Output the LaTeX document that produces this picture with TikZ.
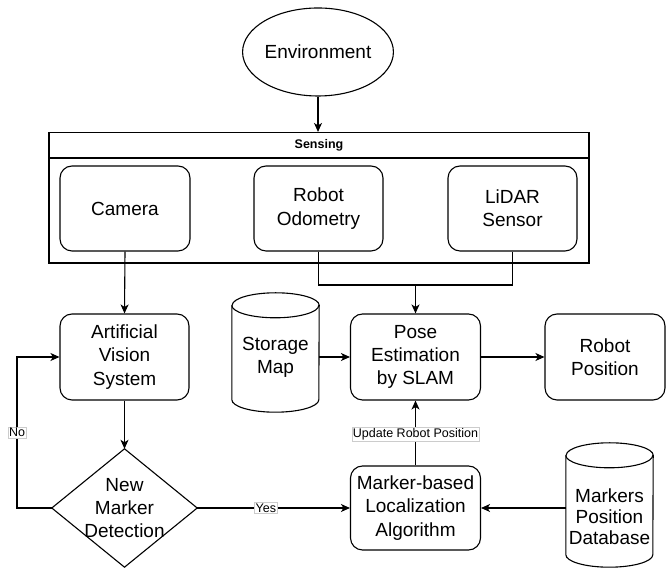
\documentclass[tikz,border=0pt]{standalone}
\usepackage{fontspec}
\setmainfont{Liberation Sans}
\usetikzlibrary{arrows.meta,calc,shapes.geometric}

\tikzset{
  every picture/.style={x=1pt,y=1pt},
  base/.style={line width=1.1pt,draw=black},
  arr/.style={base,-{Stealth[length=9pt,width=8pt,inset=2.5pt]}},
  bigtxt/.style={font=\fontsize{19}{23.3}\selectfont,align=center},
  rbox/.style={base,bigtxt,rounded corners=12pt,minimum height=85pt,inner sep=0pt},
  ghost/.style={bigtxt,inner sep=0pt},
  lbl/.style={font=\fontsize{12.5}{14}\selectfont,fill=white,draw=black!20,line width=0.5pt,inner sep=1.2pt},
}

% cylinder outline drawn round an invisible node
\newcommand{\cylout}[3]{% node, half width, ellipse radius
  \draw[base] ([yshift=-#3]#1.north west) -- ([yshift=#3]#1.south west)
    arc[start angle=180,end angle=360,x radius=#2,y radius=#3]
    -- ([yshift=-#3]#1.north east)
    arc[start angle=0,end angle=180,x radius=#2,y radius=#3];
  \draw[base] ([yshift=-#3]#1.north west)
    arc[start angle=180,end angle=360,x radius=#2,y radius=#3];
}

\begin{document}
\begin{tikzpicture}
\useasboundingbox (0,0) rectangle (666,569);

% source
\node[base,bigtxt,ellipse,minimum width=128pt,minimum height=88pt,inner sep=0pt]
  (env) at (318,517) {Environment};

% sensing group
\node[base,minimum width=540pt,minimum height=130.5pt,inner sep=0pt]
  (sens) at (319,371.25) {};
\coordinate (hdl) at (49,411);
\coordinate (hdr) at (589,411);
\draw[base] (hdl) -- (hdr);
\node[font=\fontsize{12.5}{14}\selectfont\bfseries] (senstitle) at (319,424) {Sensing};

\node[rbox,minimum width=130pt] (cam) at (125,360.5) {Camera};
\node[rbox,minimum width=129pt] (odo) at (318.5,360.5) {Robot\\Odometry};
\node[rbox,minimum width=129pt] (lid) at (512.5,360.5) {LiDAR\\Sensor};

% processing
\node[rbox,minimum width=129pt,minimum height=86pt] (avs) at (124.5,212) {Artificial\\Vision\\System};
\node[rbox,minimum width=130pt,minimum height=86pt] (pose) at (415.5,212) {Pose\\Estimation\\by SLAM};
\node[rbox,minimum width=120pt,minimum height=86pt] (rpos) at (605,212) {Robot\\Position};
\node[rbox,minimum width=130pt,minimum height=84pt] (mkr) at (415.5,61) {Marker-based\\Localization\\Algorithm};

% storage cylinders
\node[minimum width=87pt,minimum height=119pt,inner sep=0pt] (map) at (275.5,216.5) {};
\cylout{map}{43.5}{12.5}
\node[ghost] (maptxt) at ($(map.center)+(0,-5)$) {Storage\\Map};

\node[minimum width=87pt,minimum height=124pt,inner sep=0pt] (mdb) at (609.5,64) {};
\cylout{mdb}{43.5}{12.5}
\node[ghost,font=\fontsize{19}{21}\selectfont] (mdbtxt) at ($(mdb.center)+(0,-12)$) {Markers\\Position\\Database};

% decision
\node[minimum width=145pt,minimum height=118pt,inner sep=0pt] (det) at (124.5,61) {};
\draw[base] (det.north) -- (det.east) -- (det.south) -- (det.west) -- cycle;
\node[ghost] (dettxt) at (det.center) {New\\Marker\\Detection};

% connectors
\draw[arr] (env) -- (sens.north -| env);
\draw[arr] (cam.south) -- (avs.north);
\coordinate (join) at (415.5,284);
\draw[base] (odo.south) -- (odo.south |- join) -- (lid.south |- join) -- (lid.south);
\draw[arr] (join) -- (pose.north);
\draw[arr] (pose.west -| map.east) -- (pose.west);
\draw[arr] (pose.east) -- (rpos.west);
\draw[arr] (avs.south) -- (det.north);
\coordinate (noturn) at (17,61);
\draw[arr] (det.west) -- (noturn) |- node[lbl,pos=0.25] {No} (avs.west);
\draw[arr] (det.east) -- node[lbl,pos=0.45] {Yes} (mkr.west);
\draw[arr] (mkr.north) -- node[lbl,pos=0.48] {Update Robot Position} (pose.south);
\draw[arr] (mkr.east -| mdb.west) -- (mkr.east);
\end{tikzpicture}
\end{document}
